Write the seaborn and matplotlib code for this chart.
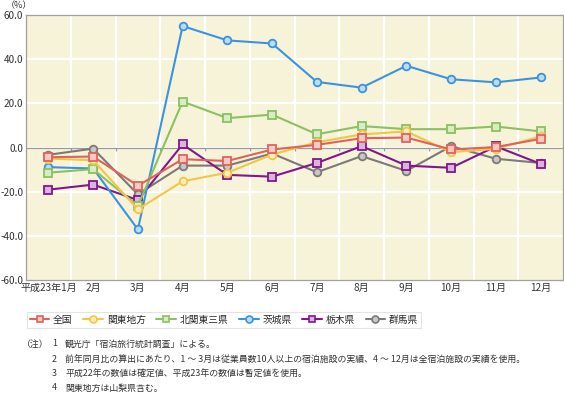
import matplotlib
matplotlib.use("Agg")
import matplotlib.pyplot as plt
import seaborn as sns
import numpy as np
import pandas as pd
from matplotlib.lines import Line2D

months = ["平成23年1月", "2月", "3月", "4月", "5月", "6月", "7月", "8月", "9月", "10月", "11月", "12月"]
zenkoku = [-4.4, -4.1, -17.3, -5.3, -6.1, -0.9, 1.2, 4.2, 4.5, -0.9, 0.2, 3.9]
kanto = [-5.0, -5.8, -28.0, -15.3, -11.4, -3.2, 2.4, 5.9, 7.3, -2.1, -0.6, 5.0]
kitakanto = [-11.4, -9.8, -26.5, 20.8, 13.3, 14.9, 6.0, 9.7, 8.3, 8.3, 9.5, 7.3]
ibaraki = [-8.9, -9.5, -37.1, 55.0, 48.5, 47.1, 29.7, 27.1, 37.0, 30.9, 29.5, 31.7]
tochigi = [-19.1, -16.8, -23.8, 1.4, -12.4, -13.2, -7.0, 0.6, -8.2, -9.2, 0.5, -7.4]
gunma = [-3.3, -0.5, -21.2, -8.2, -8.2, -2.7, -11.2, -3.9, -10.6, 0.6, -5.1, -7.0]
yticks = [-60, -40, -20, 0, 20, 40, 60]
notes = [
    ("（注）", "1", "観光庁「宿泊旅行統計調査」による。"),
    ("", "2", "前年同月比の算出にあたり、1 ～ 3月は従業員数10人以上の宿泊施設の実績、4 ～ 12月は全宿泊施設の実績を使用。"),
    ("", "3", "平成22年の数値は確定値、平成23年の数値は暫定値を使用。"),
    ("", "4", "関東地方は山梨県含む。"),
]

series = [
    ("全国", zenkoku, "#e0625c", "#f6c9c4", "s"),
    ("関東地方", kanto, "#f4c545", "#fdeebb", "o"),
    ("北関東三県", kitakanto, "#8cc061", "#d9ecc6", "s"),
    ("茨城県", ibaraki, "#3b93e0", "#bcdcf6", "o"),
    ("栃木県", tochigi, "#82168b", "#d9b5dc", "s"),
    ("群馬県", gunma, "#7b7979", "#c8c6c6", "o"),
]

sns.set_theme(style="white")
plt.rcParams["font.family"] = ["Noto Sans CJK JP", "DejaVu Sans"]

fig = plt.figure(figsize=(5.64, 3.93), dpi=100)
ax = fig.add_axes([26 / 564, 1 - 280 / 393, 537 / 564, 265 / 393])
ax.set_facecolor("#f7f3d8")

x = np.arange(len(months))
for v in yticks[1:-1]:
    ax.axhline(v, color="white", lw=1.6, zorder=0)
for k in range(len(months) - 1):
    ax.axvline(k + 0.5, color="white", lw=1.6, zorder=0)
ax.axhline(0, color="#9a9a9a", lw=0.9, zorder=1)
ax.vlines(np.arange(len(months) - 1) + 0.5, -1.8, 0, color="#9a9a9a", lw=0.9, zorder=1)

for i, (name, vals, col, face, mk) in enumerate(reversed(series)):
    df = pd.DataFrame({"x": x, "y": vals})
    sns.lineplot(data=df, x="x", y="y", ax=ax, color=col, lw=1.5, marker=mk,
                 markersize=5.5, markerfacecolor=face, markeredgecolor=col,
                 markeredgewidth=1.3, zorder=3 + i)

handles = []
for name, vals, col, face, mk in series:
    handles.append(Line2D([0], [0], color=col, lw=1.5, marker=mk, markersize=5,
                          markerfacecolor=face, markeredgecolor=col, markeredgewidth=1.2, label=name))

ax.set_xlim(-0.5, len(months) - 0.5)
ax.set_ylim(-60, 60)
ax.set_yticks(yticks)
ax.set_yticklabels([f"{v:.1f}" for v in yticks], fontsize=7.2, color="#333333")
ax.set_xticks(x)
ax.set_xticklabels(months, fontsize=7.2, color="#333333")
ax.tick_params(axis="both", length=0, pad=2)
ax.set_xlabel("")
ax.set_ylabel("")
for s in ax.spines.values():
    s.set_color("#a0a0a0")
    s.set_linewidth(0.9)

fig.text(6 / 564, 1 - 6 / 393, "（%）", fontsize=6.5, color="#333333", va="center", ha="left")

leg = fig.legend(handles=handles, loc="upper left", bbox_to_anchor=(22 / 564, 1 - 307 / 393),
                 ncol=6, fontsize=7, frameon=True, handlelength=2.0, handletextpad=0.4,
                 columnspacing=1.1, borderpad=0.3, fancybox=False)
leg.get_frame().set_edgecolor("#dddddd")
leg.get_frame().set_linewidth(0.8)

ys = [344, 359, 374, 388]
for (a, b, c), yy in zip(notes, ys):
    if a:
        fig.text(22 / 564, 1 - yy / 393, a, fontsize=6.4, color="#333333", va="center", ha="left")
    fig.text(52 / 564, 1 - yy / 393, b, fontsize=6.4, color="#333333", va="center", ha="left")
    fig.text(65 / 564, 1 - yy / 393, c, fontsize=6.4, color="#333333", va="center", ha="left")

fig.savefig("out.png", dpi=100)
